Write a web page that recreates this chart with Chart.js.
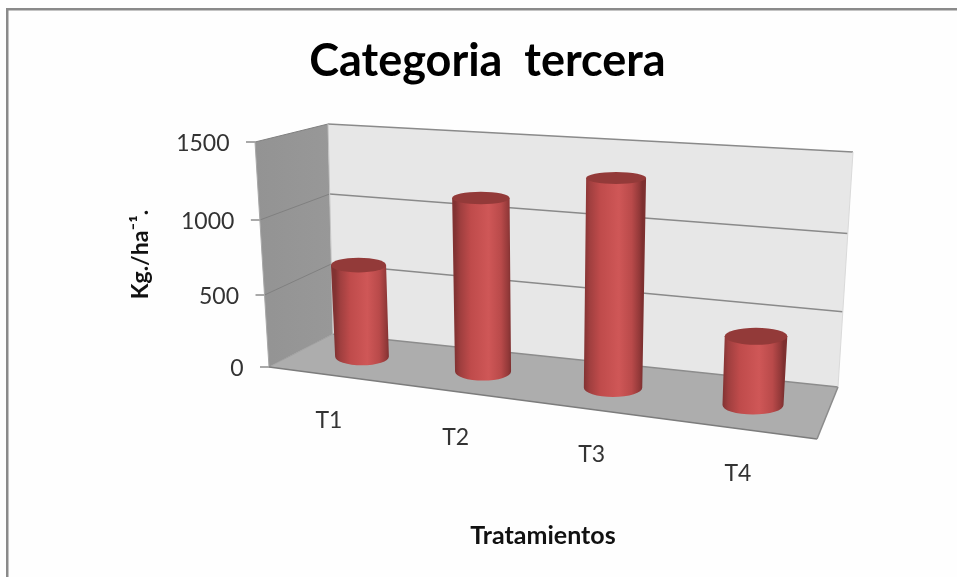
<!DOCTYPE html>
<html><head><meta charset="utf-8">
<script src="https://cdn.jsdelivr.net/npm/chart.js@4"></script>
<style>html,body{margin:0;padding:0;background:#fefefe;overflow:hidden}canvas{display:block;filter:blur(0.45px)}</style>
</head><body><canvas id="c" width="957" height="577"></canvas>
<script>
const categories = ["T1","T2","T3","T4"];
const values = [635,1170,1370,435];
const yTicks = [0,500,1000,1500];
const chartTitle = "Categoria  tercera";
const yTitle = "Kg./ha\u207B\u00B9.";
const xTitle = "Tratamientos";

// 3D box corners of the reference's projection
const box = {
  frontL:{b:[269,367],t:[255,142]},
  backL:{b:[333,334],t:[328,124]},
  backR:{b:[838,387],t:[853,152]},
  frontR:{b:[817,439]}
};
const lerp=(a,b,t)=>a+(b-a)*t;
const wallPt=(c,t,k)=>{const tt=t-k*t*(1-t);return [lerp(c.b[0],c.t[0],tt),lerp(c.b[1],c.t[1],tt)];};
const poly=(ctx,pts,fill)=>{ctx.beginPath();pts.forEach((p,i)=>i?ctx.lineTo(p[0],p[1]):ctx.moveTo(p[0],p[1]));ctx.closePath();ctx.fillStyle=fill;ctx.fill();};
const line=(ctx,a,b,col,w)=>{ctx.beginPath();ctx.moveTo(a[0],a[1]);ctx.lineTo(b[0],b[1]);ctx.strokeStyle=col;ctx.lineWidth=w;ctx.stroke();};

// maps a bar's linear position along the axis to its foreshortened position
function depthOf(s){return s/(s+1.115*(1-s));}
const ryAt=y=>6+(y-180)*0.016;

function drawCylinder(ctx){
  const p=this.$proj;
  const bx=p.bx,by=p.by,tx=p.tx,ty=p.ty,rb=p.rb,rt=p.rt,ryb=ryAt(by),ryt=ryAt(ty);
  ctx.save();
  const g=ctx.createLinearGradient(bx-rb,0,bx+rb,0);
  g.addColorStop(0,'#823232');g.addColorStop(0.10,'#a03f3f');g.addColorStop(0.28,'#bf4b4b');
  g.addColorStop(0.60,'#cf5757');g.addColorStop(0.82,'#b94a4a');g.addColorStop(0.95,'#933939');g.addColorStop(1,'#7e3030');
  ctx.beginPath();
  ctx.moveTo(tx-rt,ty);
  ctx.lineTo(bx-rb,by);
  ctx.ellipse(bx,by,rb,ryb,0,Math.PI,0,true);
  ctx.lineTo(tx+rt,ty);
  ctx.closePath();
  ctx.fillStyle=g;ctx.fill();
  ctx.beginPath();ctx.ellipse(tx,ty,rt,ryt,0,0,Math.PI*2);
  ctx.fillStyle='#933a39';ctx.fill();
  ctx.restore();
}

const scene={
  id:'scene',
  afterLayout(chart){
    // the reference's title sits right of the plot's padded centre
    const t=chart.titleBlock; t.left+=154;
  },
  afterDatasetsUpdate(chart){
    const data=chart.getDatasetMeta(0).data;
    const x0=data[0].x,x3=data[data.length-1].x;
    data.forEach(el=>{
      const d=depthOf((el.x-x0)/(x3-x0));
      const bx=362+391*d, by=356.5+48.5*d;
      const f=0.96+0.093*d, h=(el.base-el.y)*f, lean=-0.038+0.082*d;
      const rb=el.width/2*(0.96+0.13*d);
      el.$proj={bx,by,tx:bx+lean*h,ty:by-h,rb,rt:rb*1.025,d};
      el.draw=drawCylinder;
    });
  },
  beforeDraw(chart){
    const ctx=chart.ctx;
    // frame
    ctx.save();
    ctx.fillStyle='#fefefe';ctx.fillRect(0,0,957,577);
    ctx.fillStyle='#8a8a8a';ctx.fillRect(6,8,951,2.5);ctx.fillRect(6,8,2.5,569);
    ctx.restore();
    // move tick labels onto the slanted axes
    const ys=chart.scales.y, xs=chart.scales.x;
    ys.getLabelItems(chart.chartArea).forEach((it,i)=>{
      const py=ys.getPixelForValue(ys.ticks[i].value);
      const a=wallPt(box.frontL,(ys.bottom-py)/(ys.bottom-ys.top),0.06);
      it.textOffset=0;
      it.options.translation=[a[0]-25.5,a[1]+1.5];
      it.options.textAlign='right';it.options.textBaseline='middle';
    });
    const data=chart.getDatasetMeta(0).data;
    xs.getLabelItems(chart.chartArea).forEach((it,i)=>{
      const p=data[i].$proj;
      it.textOffset=0;
      it.options.translation=[p.bx-33+18*p.d,p.by+64.5+4*p.d];
      it.options.textAlign='center';it.options.textBaseline='middle';
    });
  },
  beforeDatasetsDraw(chart){
    const ctx=chart.ctx, ys=chart.scales.y, B=box;
    ctx.save();
    const grey=ctx.createLinearGradient(255,0,333,0);
    grey.addColorStop(0,'#939393');grey.addColorStop(1,'#989898');
    poly(ctx,[B.frontL.t,B.backL.t,B.backL.b,B.frontL.b],grey);
    poly(ctx,[B.backL.t,B.backR.t,B.backR.b,B.backL.b],'#e7e7e7');
    poly(ctx,[B.frontL.b,B.backL.b,B.backR.b,B.frontR.b],'#adadad');
    ys.ticks.forEach(tk=>{
      const t=(ys.bottom-ys.getPixelForValue(tk.value))/(ys.bottom-ys.top);
      const f=wallPt(B.frontL,t,0.06), b=wallPt(B.backL,t,0), r=wallPt(B.backR,t,0.06);
      line(ctx,[f[0]-9,f[1]],f,'#8c8c8c',1.5);
      if(tk.value===0){ line(ctx,f,b,'#a0a0a0',1);}
      else line(ctx,f,b,'#808080',1);
      line(ctx,b,r,tk.value===0?'#8c8c8c':'#8a8a8a',1.4);
    });
    line(ctx,B.frontL.t,B.frontL.b,'#a8a8a8',1);
    line(ctx,B.backL.t,B.backL.b,'#c4c4c4',1);
    line(ctx,B.backR.t,B.backR.b,'#dadada',1);
    line(ctx,B.frontL.b,B.frontR.b,'#7c7c7c',1.5);
    line(ctx,B.frontR.b,B.backR.b,'#8c8c8c',1.5);
    ctx.restore();
  }
};

new Chart(document.getElementById('c'),{
  type:'bar',
  data:{labels:categories,datasets:[{label:'Kg./ha',data:values,backgroundColor:'#c04c4c',clip:false,
    categoryPercentage:1,barPercentage:56/130}]},
  plugins:[scene],
  options:{
    responsive:false,animation:false,devicePixelRatio:1,
    layout:{padding:{left:18,right:154,top:0,bottom:0}},
    plugins:{
      legend:{display:false},tooltip:{enabled:false},
      title:{display:true,text:chartTitle,color:'#000',
        font:{family:'Lato',size:45,weight:'bold',lineHeight:1.2},
        padding:{top:34,bottom:54}}
    },
    scales:{
      x:{type:'category',grid:{display:false},border:{display:false},
        ticks:{color:'#333',font:{family:'Lato',size:23},maxRotation:0,autoSkip:false},
        title:{display:true,text:xTitle,color:'#111',font:{family:'Lato',size:25,weight:'bold'},padding:{top:0,bottom:26}},
        afterFit(s){s.height=577-367;}},
      y:{type:'linear',min:0,max:1500,grid:{display:false},border:{display:false},
        afterBuildTicks(s){s.ticks=yTicks.map(v=>({value:v}));},
        ticks:{color:'#333',font:{family:'Lato',size:23},callback:v=>String(v)},
        title:{display:true,text:yTitle,color:'#111',font:{family:'Lato',size:23,weight:'bold'},padding:{top:109,bottom:0}},
        afterFit(s){s.width=283-18;}}
    }
  }
});
</script></body></html>
